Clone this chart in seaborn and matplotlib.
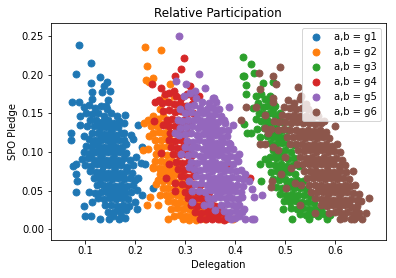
import pandas as pd
import seaborn as sns
import matplotlib.pyplot as plt

# points as (delegation, spo pledge)
g1 = [(.087,.238),(.111,.215),(.081,.201),(.129,.197),(.111,.189),(.143,.191),(.137,.185),(.113,.178),(.149,.179),(.133,.177),
      (.073,.165),(.087,.164),(.113,.168),(.145,.167),(.141,.159),(.179,.148),(.177,.138),(.205,.135),(.089,.146),(.089,.135),
      (.071,.125),(.071,.116),(.097,.121),(.177,.124),(.191,.122),(.195,.117),(.213,.107),(.181,.110),(.201,.093),(.211,.086),
      (.219,.085),(.075,.082),(.081,.085),(.081,.071),(.083,.062),(.081,.048),(.205,.066),(.235,.053),(.203,.051),(.213,.045),
      (.097,.030),(.099,.017),(.111,.017),(.129,.013),(.147,.013),(.167,.013),(.179,.015),(.203,.026),(.199,.036),(.107,.049),
      (.097,.158),(.108,.161),(.119,.157),(.131,.160),(.143,.155),(.101,.150),(.113,.149),(.126,.151),(.138,.147),(.151,.150),(.163,.146),
      (.109,.141),(.121,.142),(.133,.139),(.146,.141),(.158,.138),(.168,.140),(.104,.134),(.117,.133),(.129,.131),(.141,.132),(.153,.130),(.165,.132),
      (.113,.124),(.125,.125),(.137,.123),(.149,.124),(.161,.122),(.172,.125),(.107,.117),(.119,.116),(.131,.115),(.143,.116),(.155,.114),(.167,.116),(.177,.115),
      (.101,.108),(.113,.107),(.125,.109),(.137,.106),(.149,.108),(.161,.106),(.173,.107),(.097,.100),(.109,.099),(.121,.100),(.133,.098),(.145,.100),(.157,.098),(.169,.100),(.181,.099),
      (.093,.091),(.105,.092),(.117,.090),(.129,.092),(.141,.090),(.153,.091),(.165,.090),(.177,.092),(.189,.090),
      (.099,.083),(.111,.082),(.123,.084),(.135,.082),(.147,.083),(.159,.081),(.171,.083),(.183,.081),(.195,.083),
      (.109,.075),(.121,.074),(.133,.075),(.145,.073),(.157,.075),(.169,.073),(.181,.075),(.193,.073),
      (.117,.066),(.129,.065),(.141,.067),(.153,.065),(.165,.066),(.177,.065),(.189,.067),(.199,.064),
      (.123,.057),(.135,.057),(.147,.058),(.159,.056),(.171,.058),(.183,.056),(.195,.058),
      (.119,.047),(.131,.048),(.143,.049),(.155,.047),(.167,.049),(.179,.047),(.191,.048),
      (.125,.040),(.137,.039),(.149,.041),(.161,.039),(.173,.040),(.185,.039),(.113,.035),
      (.139,.031),(.151,.032),(.163,.030),(.175,.031),(.187,.030),(.145,.023),(.157,.023),(.169,.024),(.181,.025),(.155,.017),(.171,.018),
      # extra core points
      (.127,.103),(.139,.103),(.151,.103),(.163,.103),(.123,.087),(.135,.087),(.147,.087),(.159,.086),(.171,.087),
      (.127,.071),(.139,.070),(.151,.070),(.163,.070),(.175,.070),(.141,.053),(.153,.052),(.165,.053),(.177,.052),
      (.131,.119),(.143,.120),(.155,.119),(.127,.137),(.139,.136),(.151,.136),(.111,.096),(.115,.112),(.149,.044),(.161,.044),(.173,.044)]

g2 = [(.219,.236),(.251,.232),(.223,.211),(.221,.193),(.227,.191),(.235,.195),(.269,.188),(.217,.138),(.227,.121),(.215,.102),
      (.225,.104),(.235,.081),(.245,.064),(.241,.059),(.229,.042),(.223,.031),(.245,.031),(.249,.044),(.265,.013),(.277,.018),
      (.258,.171),(.268,.165),(.277,.172),(.286,.160),(.250,.155),
      (.226,.141),(.236,.146),(.246,.143),(.256,.147),(.266,.141),(.232,.133),(.243,.134),(.254,.136),(.265,.132),
      (.236,.125),(.247,.126),(.258,.124),(.269,.123),(.240,.116),(.251,.115),(.262,.117),(.273,.114),
      (.243,.107),(.254,.106),(.265,.108),(.242,.098),(.253,.097),(.264,.096),(.276,.098),
      (.240,.088),(.251,.089),(.262,.087),(.273,.088),(.284,.087),(.236,.080),(.247,.079),(.258,.080),(.269,.078),(.280,.079),(.291,.078),
      (.249,.071),(.260,.072),(.271,.070),(.282,.071),(.293,.070),(.256,.063),(.267,.062),(.278,.063),(.289,.061),(.300,.062),
      (.255,.054),(.266,.053),(.277,.054),(.288,.052),(.299,.053),(.310,.052),(.261,.045),(.272,.044),(.283,.045),(.294,.043),(.305,.044),(.317,.042),
      (.265,.037),(.277,.035),(.289,.036),(.301,.034),(.313,.035),(.325,.033),(.337,.034),
      (.272,.027),(.284,.028),(.296,.026),(.308,.027),(.320,.025),(.332,.026),(.344,.025),(.356,.027),
      (.290,.019),(.302,.018),(.314,.019),(.326,.017),(.338,.018),(.350,.017),(.362,.018),(.295,.013),(.308,.012),(.322,.012),(.340,.013),(.370,.014),(.382,.013),(.396,.014)]

g3 = [(.415,.223),(.431,.214),(.437,.202),(.415,.198),(.417,.198),(.455,.189),(.475,.191),(.421,.186),(.421,.175),(.441,.173),
      (.469,.173),(.435,.157),(.417,.136),(.423,.125),(.431,.125),(.443,.130),(.449,.119),(.459,.091),(.449,.084),(.451,.063),
      (.495,.027),(.513,.014),(.547,.013),(.583,.013),
      (.451,.175),(.460,.168),(.470,.165),(.480,.160),(.445,.163),(.455,.158),(.447,.150),(.458,.149),(.469,.151),(.480,.148),(.490,.150),
      (.441,.143),(.452,.140),(.463,.141),(.474,.139),(.485,.141),(.496,.139),(.458,.131),(.470,.130),(.482,.131),(.494,.129),(.506,.128),
      (.463,.121),(.475,.120),(.487,.121),(.499,.119),(.470,.112),(.482,.111),(.494,.112),(.506,.110),(.518,.109),
      (.476,.102),(.488,.101),(.500,.102),(.512,.100),(.470,.094),(.481,.092),(.493,.093),(.505,.091),(.517,.092),
      (.468,.084),(.480,.083),(.492,.084),(.504,.082),(.516,.083),(.528,.082),(.472,.074),(.484,.075),(.496,.073),(.508,.074),(.520,.072),
      (.476,.065),(.488,.064),(.500,.065),(.512,.063),(.524,.064),(.536,.062),(.482,.055),(.494,.054),(.506,.055),(.518,.053),(.530,.054),(.542,.052),
      (.490,.046),(.502,.045),(.514,.046),(.526,.044),(.538,.045),(.550,.043),(.498,.037),(.510,.036),(.522,.037),(.534,.035),(.546,.036),(.558,.034),
      (.512,.028),(.524,.027),(.536,.028),(.548,.026),(.560,.027),(.572,.025),(.530,.020),(.542,.019),(.554,.020),(.566,.018),(.578,.020),(.590,.019),
      # extra band points
      (.464,.160),(.475,.156),(.463,.135),(.476,.125),(.488,.116),(.482,.097),(.494,.097),(.486,.079),(.498,.079),(.490,.069),(.503,.060),(.515,.059),(.508,.041),(.520,.041)]

g4 = [(.297,.222),(.291,.207),(.279,.198),(.233,.188),(.251,.183),(.259,.175),(.277,.179),(.239,.164),(.247,.167),(.237,.140),
      (.251,.099),(.267,.085),(.261,.066),(.279,.060),(.279,.050),(.309,.185),(.327,.173),(.389,.083),(.429,.066),(.350,.016),(.377,.012),
      (.268,.176),(.281,.172),(.292,.170),(.304,.175),(.316,.171),(.254,.163),(.265,.165),(.277,.162),(.289,.163),(.301,.160),(.313,.162),
      (.256,.153),(.268,.154),(.279,.152),(.291,.153),(.303,.151),(.315,.150),(.263,.141),(.274,.143),(.286,.141),(.298,.142),(.310,.140),
      (.255,.135),(.268,.133),(.280,.134),(.292,.132),(.304,.133),(.270,.124),(.282,.125),(.294,.123),(.306,.124),
      (.268,.115),(.280,.114),(.292,.115),(.304,.113),(.272,.106),(.284,.105),(.296,.106),(.308,.104),(.276,.097),(.288,.096),(.300,.097),(.312,.095),
      (.281,.087),(.293,.086),(.305,.087),(.317,.085),(.285,.078),(.297,.077),(.309,.078),(.321,.076),(.291,.069),(.303,.068),(.315,.069),
      (.293,.059),(.305,.058),(.317,.059),(.329,.057),(.300,.049),(.312,.048),(.324,.049),(.336,.047),(.348,.048),(.306,.040),(.318,.039),(.330,.040),(.342,.038),(.354,.039),
      (.312,.031),(.324,.030),(.336,.031),(.348,.029),(.360,.030),(.372,.029),(.320,.022),(.332,.021),(.344,.022),(.356,.020),(.368,.021),(.380,.020),
      (.330,.014),(.342,.013),(.354,.014),(.366,.013),(.385,.015)]

g5 = [(.287,.250),(.327,.201),(.281,.192),(.301,.188),(.339,.183),(.319,.179),(.297,.173),(.355,.170),(.387,.158),(.357,.170),
      (.367,.156),(.380,.138),(.395,.135),(.389,.111),(.407,.098),(.405,.089),(.420,.071),(.427,.063),(.433,.052),(.453,.045),
      (.437,.042),(.433,.014),(.437,.014),(.419,.013),(.399,.015),(.417,.027),(.413,.042),(.285,.142),(.279,.124),(.291,.098),
      (.307,.081),(.307,.063),(.313,.050),(.313,.035),(.337,.031),(.360,.025),
      (.310,.176),(.322,.170),(.334,.165),(.348,.163),(.362,.165),(.305,.160),(.318,.161),(.330,.157),(.343,.155),(.356,.157),(.290,.155),
      (.300,.151),(.312,.152),(.324,.149),(.336,.150),(.348,.148),(.360,.149),(.372,.147),(.293,.140),(.305,.142),(.317,.141),(.329,.142),(.341,.140),(.353,.141),(.365,.139),(.377,.141),
      (.290,.131),(.302,.132),(.314,.133),(.326,.131),(.338,.132),(.350,.130),(.362,.131),(.374,.129),(.385,.128),
      (.287,.122),(.299,.123),(.311,.124),(.323,.122),(.335,.123),(.347,.121),(.359,.122),(.371,.120),(.383,.121),
      (.303,.114),(.315,.113),(.327,.115),(.339,.113),(.351,.114),(.363,.112),(.375,.113),(.387,.112),
      (.299,.106),(.311,.105),(.323,.106),(.335,.104),(.347,.105),(.359,.104),(.371,.105),(.383,.103),(.395,.104),
      (.306,.096),(.318,.097),(.330,.095),(.342,.096),(.354,.094),(.366,.096),(.378,.094),(.390,.095),(.402,.094),
      (.312,.087),(.324,.086),(.336,.088),(.348,.086),(.360,.087),(.372,.085),(.384,.087),(.396,.085),
      (.317,.078),(.329,.077),(.341,.078),(.353,.076),(.365,.078),(.377,.076),(.389,.077),(.401,.076),(.412,.077),
      (.322,.069),(.334,.068),(.346,.069),(.358,.067),(.370,.069),(.382,.067),(.394,.068),(.406,.067),(.416,.065),
      (.320,.059),(.332,.060),(.344,.058),(.356,.059),(.368,.057),(.380,.059),(.392,.057),(.404,.058),(.416,.056),
      (.328,.050),(.340,.049),(.352,.051),(.364,.049),(.376,.050),(.388,.048),(.400,.050),(.412,.048),
      (.345,.041),(.357,.040),(.369,.042),(.381,.040),(.393,.041),(.405,.039),(.350,.033),(.372,.032),(.384,.033),(.396,.031),(.408,.032),
      (.378,.024),(.390,.023),(.402,.024),(.414,.022),(.385,.016),(.392,.014),(.408,.017),
      # extra core points
      (.342,.127),(.354,.126),(.366,.126),(.345,.109),(.357,.108),(.369,.109),(.348,.100),(.360,.100),(.372,.100),(.342,.082),(.354,.082),(.366,.081),(.378,.081),
      (.350,.064),(.362,.063),(.374,.063),(.386,.063),(.350,.054),(.362,.054),(.374,.054),(.386,.053),(.398,.053),(.330,.136),(.342,.135),(.354,.135)]

g6 = [(.489,.210),(.447,.202),(.475,.198),(.481,.188),(.449,.182),(.525,.184),(.531,.173),(.475,.170),(.475,.165),(.421,.158),
      (.441,.158),(.411,.142),(.459,.148),(.459,.131),(.465,.125),(.449,.111),(.459,.110),(.475,.107),(.485,.103),(.499,.093),
      (.511,.080),(.491,.072),(.473,.063),(.471,.055),(.501,.053),(.529,.032),(.559,.021),(.599,.134),(.577,.140),(.635,.075),
      (.639,.058),(.667,.040),(.651,.037),(.661,.021),(.653,.013),(.637,.013),(.631,.013),(.617,.015),(.587,.021),(.641,.027),
      (.505,.167),(.517,.163),(.529,.168),(.541,.162),(.498,.158),(.510,.157),(.522,.155),(.534,.157),(.546,.155),(.555,.150),
      (.494,.148),(.506,.147),(.518,.148),(.530,.146),(.542,.147),(.554,.145),(.566,.146),(.477,.140),(.488,.139),(.500,.139),(.512,.138),(.524,.139),(.536,.137),(.548,.138),(.560,.136),(.572,.137),
      (.472,.130),(.485,.128),(.497,.130),(.509,.128),(.521,.129),(.533,.127),(.545,.129),(.557,.127),(.569,.128),(.581,.126),
      (.503,.120),(.515,.119),(.527,.120),(.539,.118),(.551,.120),(.563,.118),(.575,.119),(.587,.118),(.509,.111),(.521,.110),(.533,.111),(.545,.109),(.557,.111),(.569,.109),(.581,.110),(.593,.108),(.603,.110),
      (.525,.102),(.537,.101),(.549,.102),(.561,.100),(.573,.102),(.585,.100),(.597,.101),(.609,.100),(.530,.093),(.542,.092),(.554,.093),(.566,.091),(.578,.093),(.590,.091),(.602,.092),(.614,.090),
      (.523,.084),(.535,.084),(.547,.085),(.559,.083),(.571,.084),(.583,.082),(.595,.084),(.607,.082),(.619,.083),(.538,.076),(.550,.075),(.562,.076),(.574,.074),(.586,.076),(.598,.074),(.610,.075),(.622,.074),
      (.543,.067),(.555,.066),(.567,.067),(.579,.065),(.591,.067),(.603,.065),(.615,.066),(.627,.065),(.520,.060),(.532,.058),(.548,.058),(.560,.057),(.572,.058),(.584,.056),(.596,.058),(.608,.056),(.620,.057),(.630,.056),
      (.552,.049),(.564,.048),(.576,.049),(.588,.047),(.600,.049),(.612,.047),(.624,.048),(.636,.047),(.648,.046),(.560,.040),(.572,.039),(.584,.040),(.596,.038),(.608,.040),(.620,.038),(.632,.039),(.644,.038),
      (.572,.031),(.584,.030),(.596,.031),(.608,.029),(.620,.031),(.632,.029),(.644,.030),(.600,.022),(.612,.021),(.624,.022),(.636,.020),(.648,.021),(.610,.014),(.642,.016),
      # extra core points
      (.515,.143),(.527,.143),(.539,.142),(.551,.141),(.527,.124),(.539,.123),(.551,.124),(.563,.123),(.575,.123),(.539,.106),(.551,.106),(.563,.105),(.575,.105),(.587,.105),
      (.548,.088),(.560,.088),(.572,.088),(.584,.087),(.596,.087),(.556,.071),(.568,.071),(.580,.070),(.592,.070),(.604,.070),(.568,.053),(.580,.052),(.592,.052),(.604,.052),(.616,.052),
      (.580,.035),(.592,.035),(.604,.034),(.616,.034),(.628,.034)]

groups = ["g1", "g2", "g3", "g4", "g5", "g6"]
colors = ["#1f77b4", "#ff7f0e", "#2ca02c", "#d62728", "#9467bd", "#8c564b"]

fig = plt.figure(figsize=(5.5, 278 / 72), dpi=72)
ax = fig.add_axes([51 / 396, 1 - 239.5 / 278, 334.5 / 396, 216.5 / 278])

for name, pts, c in zip(groups, [g1, g2, g3, g4, g5, g6], colors):
    df = pd.DataFrame(pts, columns=["delegation", "pledge"])
    sns.scatterplot(data=df, x="delegation", y="pledge", ax=ax, color=c, s=50,
                    edgecolor=c, linewidth=0.8, label="a,b = " + name)

ax.set_xlim(0.032, 0.70)
ax.set_ylim(-0.0130, 0.2667)
ax.set_xticks([0.1, 0.2, 0.3, 0.4, 0.5, 0.6])
ax.set_yticks([0.0, 0.05, 0.10, 0.15, 0.20, 0.25])
ax.set_yticklabels(["0.00", "0.05", "0.10", "0.15", "0.20", "0.25"])
ax.set_xlabel("Delegation")
ax.set_ylabel("SPO Pledge")
ax.set_title("Relative Participation")
ax.legend(loc="upper right")
fig.savefig("out.png", dpi=72)
